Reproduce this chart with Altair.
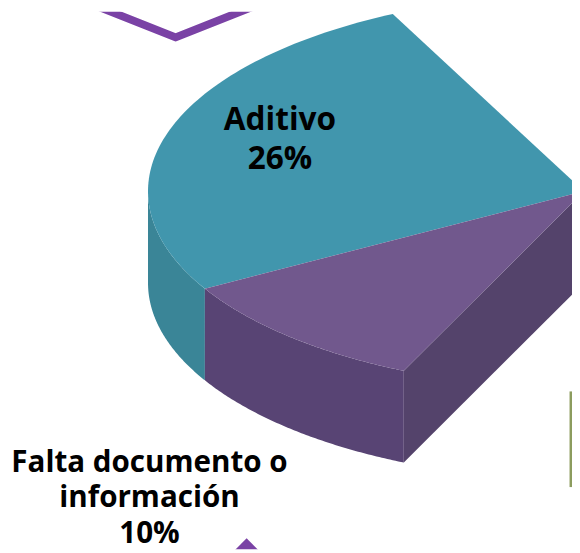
import math
import altair as alt

# ---- data ----
categories = ["Aditivo", "Falta documento o información"]
percent = [26, 10]
label_text = ["Aditivo\n26%", "Falta documento o\ninformación\n10%"]
top_colors = ["#4196AD", "#71588D"]
side_colors = ["#3A8597", "#584474"]
wall_colors = ["#35798A", "#54436B"]
text_line_height = [40, 36]
text_size = [32, 30]

# ---- layout (pixel space of the reference) ----
CX, CY, RX, RY, DEPTH = 592, 190, 442, 200, 93
START = 244          # parametric angle where the first slice starts
LABEL_R = [0.73, 1.478]
LABEL_DY = [-19, 66]
PURPLE = "#7A42A5"
MARGIN = 8


def rim(t, dz=0.0):
    r = math.radians(t)
    return [CX + RX * math.cos(r), CY + RY * math.sin(r) + dz]


def arc(a, b, dz=0.0, n=90):
    return [rim(a + (b - a) * i / n, dz) for i in range(n + 1)]


def poly(ring, color, name):
    ring = ring + [ring[0]]
    return {"type": "Feature", "geometry": {"type": "Polygon", "coordinates": [ring]},
            "properties": {"color": color, "name": name}}


features = []
tops = []
labels = []
hi = START
apex = [CX, CY]
for i, (cat, p) in enumerate(zip(categories, percent)):
    lo = hi - p * 3.6
    s, e = max(lo, 0), min(hi, 180)
    if s < e:
        features.append(poly(arc(s, e) + arc(e, s, DEPTH), side_colors[i], cat + " side"))
    if i == len(categories) - 1:
        features.append(poly([apex, rim(lo), rim(lo, DEPTH), [apex[0], apex[1] + DEPTH]],
                             wall_colors[i], cat + " wall"))
    tops.append(poly([apex] + arc(hi, lo), top_colors[i], cat))
    mid = math.radians((hi + lo) / 2)
    labels.append({"lx": CX + LABEL_R[i] * RX * math.cos(mid),
                   "ly": CY + LABEL_R[i] * RY * math.sin(mid) + LABEL_DY[i],
                   "label": label_text[i]})
    hi = lo
features += tops

proj = dict(type="identity", scale=1, translate=[-MARGIN, -MARGIN])

slices = alt.Chart(alt.Data(values=features)).mark_geoshape(strokeWidth=0).encode(
    fill=alt.Fill("properties.color:N", scale=None)
).project(**proj)

# decorative chevrons from the slide
chevron = {"type": "Feature", "geometry": {"type": "LineString", "coordinates": [
    [139, -6], [139, 3], [100, 3], [178, 34], [256, 3], [217, 3], [217, -6]]},
    "properties": {}}
tip = {"type": "Feature", "geometry": {"type": "Polygon", "coordinates": [[
    [250, 542], [264, 556], [236, 556], [250, 542]]]}, "properties": {}}
sliver = {"type": "Feature", "geometry": {"type": "LineString", "coordinates": [
    [579, 393], [579, 490]]}, "properties": {}}

deco1 = alt.Chart(alt.Data(values=[chevron])).mark_geoshape(
    filled=False, stroke=PURPLE, strokeWidth=8, strokeJoin="round", strokeCap="round"
).project(**proj)
deco2 = alt.Chart(alt.Data(values=[tip])).mark_geoshape(fill=PURPLE, strokeWidth=0).project(**proj)
deco3 = alt.Chart(alt.Data(values=[sliver])).mark_geoshape(
    filled=False, stroke="#8C9C5E", strokeWidth=3).project(**proj)

text_layers = []
for i, lab in enumerate(labels):
    text_layers.append(
        alt.Chart(alt.Data(values=[lab])).mark_text(
            font="Open Sans", fontWeight="bold", fontSize=text_size[i], color="#000000",
            align="center", baseline="alphabetic", lineBreak="\n",
            lineHeight=text_line_height[i]
        ).encode(longitude="lx:Q", latitude="ly:Q", text="label:N").project(**proj)
    )

chart = alt.layer(slices, deco1, deco2, deco3, *text_layers).properties(
    width=580 - MARGIN, height=553 - MARGIN, padding=0, autosize="none"
).configure_view(stroke=None)

chart.save("out.html", embed_options={"renderer": "svg", "actions": False})
